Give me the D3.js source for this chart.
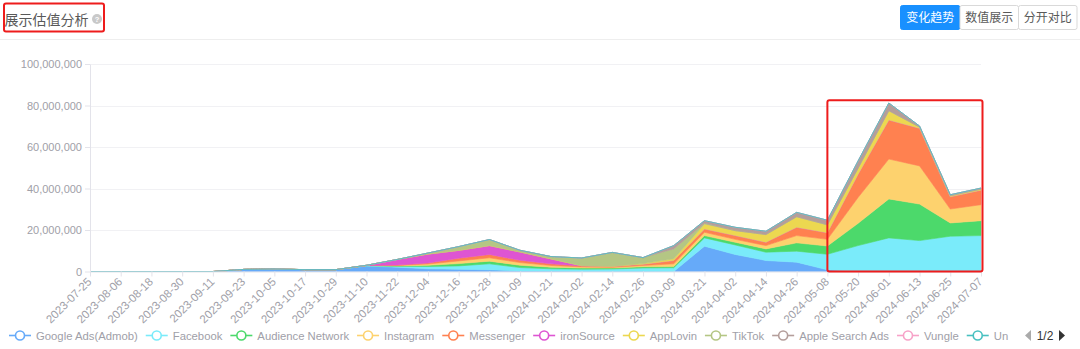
<!DOCTYPE html>
<html><head><meta charset="utf-8">
<script src="https://cdn.jsdelivr.net/npm/d3@7"></script>
<style>
body{margin:0;background:#fff;}
svg{display:block;font-family:"Liberation Sans",Arial,sans-serif;}
</style></head><body>
<svg id="chart" width="1080" height="349"></svg>
<script>
// ---------- DATA (values in millions) ----------
const dates = ["2023-07-25","2023-08-06","2023-08-18","2023-08-30","2023-09-11","2023-09-23","2023-10-05","2023-10-17","2023-10-29","2023-11-10","2023-11-22","2023-12-04","2023-12-16","2023-12-28","2024-01-09","2024-01-21","2024-02-02","2024-02-14","2024-02-26","2024-03-09","2024-03-21","2024-04-02","2024-04-14","2024-04-26","2024-05-08","2024-05-20","2024-06-01","2024-06-13","2024-06-25","2024-07-07"];
const seriesNames = ["Google Ads(Admob)","Facebook","Audience Network","Instagram","Messenger","ironSource","AppLovin","TikTok","Apple Search Ads","Vungle","Unity Ads"];
const googleAds      = [0,0,0,0,0,1.0,1.2,0.9,0.9,2.6,2.1,1.3,1.1,0.8,0.3,0.2,0.1,0.1,0.1,0,12.2,8.2,5.3,4.5,0.8,0,0,0,0,0];
const facebook       = [0,0,0,0,0,0,0,0,0,0.2,0.4,1.1,1.6,2.9,1.6,1.1,1.0,1.1,1.6,1.8,4.0,4.6,4.0,5.3,7.5,12.5,16.2,14.9,17.0,17.3];
const audienceNet    = [0,0,0,0,0,0,0,0,0,0.1,0.2,0.6,1.1,1.3,1.1,0.8,0.6,0.5,0.6,0.6,1.1,1.3,1.6,4.0,4.0,10.7,18.8,17.6,6.4,7.2];
const instagram      = [0,0,0,0,0,0,0,0,0,0,0.2,0.6,1.3,1.6,1.3,0.8,0.5,0.3,0.6,1.3,1.6,1.4,1.6,3.5,3.2,12.5,19.2,18.4,6.7,7.7];
const messenger      = [0,0,0,0,0,0,0,0,0,0,0.2,0.5,1.3,1.6,1.1,0.8,0.5,0.5,0.6,1.6,1.6,1.8,1.6,4.0,3.2,11.2,18.8,18.1,5.9,7.0];
const ironSource     = [0,0,0,0,0,0,0,0,0,0.1,2.7,4.3,3.8,4.3,4.0,2.4,0.1,0,0,0,0,0,0,0,0,0,0,0,0,0];
const appLovin       = [0,0,0,0,0,0,0,0,0,0,0,0,0,0,0,0,0,0,0.3,0.8,2.4,2.4,3.7,5.1,3.8,2.9,4.5,0.6,0.5,0.5];
const tiktok         = [0,0,0,0,0,0,0,0,0,0,0,0.5,1.8,2.9,0.8,1.1,3.7,6.7,2.9,4.8,0.3,0,0,0,0,0,0,0,0,0];
const appleSearchAds = [0,0,0,0,0,0,0,0,0,0,0,0,0,0,0,0,0,0,0,1.6,1.3,1.6,1.6,2.1,2.2,3.5,3.7,0.5,0.5,0.5];
const vungle         = [0,0,0,0,0,0,0,0,0,0,0,0,0,0,0,0,0,0,0,0,0,0,0,0,0,0,0,0,0,0];
const unityAds       = [0,0,0,0,0,0,0,0,0,0,0,0,0,0,0,0,0,0,0,0,0,0,0,0,0,0,0,0,0,0];
const yTickValues = [0,20000000,40000000,60000000,80000000,100000000];
const buttonLabels = ["变化趋势","数值展示","分开对比"];
const titleText = "展示估值分析";
const pagerText = "1/2";

// ---------- STYLE ----------
const colors = ["#66aaf9","#7aebfa","#4cd96b","#fdd26e","#ff8150","#de55d2","#ecd850","#b4c684","#b49e9b","#f7a2c8","#48c0c0"];
const seriesData = [googleAds,facebook,audienceNet,instagram,messenger,ironSource,appLovin,tiktok,appleSearchAds,vungle,unityAds];

const svg = d3.select("#chart");
const W = 1080;
const plot = {left:90, right:981, top:64, bottom:271.5};

const x = d3.scalePoint().domain(dates).range([plot.left, plot.right]);
const y = d3.scaleLinear().domain([0,100000000]).range([plot.bottom, plot.top]);

// header
svg.append("line").attr("x1",0).attr("x2",W).attr("y1",39.5).attr("y2",39.5).attr("stroke","#eeeeee");
svg.append("text").attr("x",4.5).attr("y",24.5).text(titleText)
  .attr("font-family","'Noto Sans CJK SC'").attr("font-size",14).attr("fill","#595959");
svg.append("circle").attr("cx",97).attr("cy",19).attr("r",5).attr("fill","#c9c9c9");
svg.append("text").attr("x",97).attr("y",22).attr("text-anchor","middle").attr("font-size",7.5).attr("font-weight","bold").attr("fill","#fff").text("?");
svg.append("rect").attr("x",4).attr("y",3.5).attr("width",100).attr("height",28).attr("rx",2)
  .attr("fill","none").attr("stroke","#ee1c1c").attr("stroke-width",2);

// buttons
const bx = [900.5, 960, 1018.5, 1077];
buttonLabels.forEach((t,i)=>{
  svg.append("rect").attr("x",bx[i]).attr("y",5.5).attr("width",bx[i+1]-bx[i]).attr("height",24)
    .attr("rx", 2).attr("fill", i===0?"#1890ff":"#fff").attr("stroke", i===0?"#1890ff":"#d9d9d9");
  svg.append("text").attr("x",(bx[i]+bx[i+1])/2).attr("y",21.5).attr("text-anchor","middle")
    .attr("font-family","'Noto Sans CJK SC'").attr("font-size",12)
    .attr("fill", i===0?"#fff":"#595959").text(t);
});

// grid
svg.append("g").selectAll("line").data(yTickValues.slice(1)).join("line")
  .attr("x1",plot.left).attr("x2",plot.right).attr("y1",d=>Math.round(y(d))+0.5).attr("y2",d=>Math.round(y(d))+0.5)
  .attr("stroke","#f1f1f4");

// stacked areas
const rows = dates.map((d,i)=>{ const r={date:d}; seriesNames.forEach((n,k)=>r[n]=seriesData[k][i]*1e6); return r; });
const stacked = d3.stack().keys(seriesNames)(rows);
const area = d3.area().x(d=>x(d.data.date)).y0(d=>y(d[0])).y1(d=>y(d[1]));
svg.append("g").selectAll("path").data(stacked).join("path")
  .attr("d",area).attr("fill",(d,i)=>colors[i]).attr("stroke",(d,i)=>colors[i]).attr("stroke-width",0.6);

// y axis
const yAxis = svg.append("g").attr("transform",`translate(${plot.left},0)`)
  .call(d3.axisLeft(y).tickValues(yTickValues).tickFormat(d3.format(",")).tickSize(5).tickPadding(3).tickSizeOuter(0));
yAxis.select(".domain").attr("stroke","#e3e3ea");
yAxis.selectAll(".tick line").attr("stroke","#e3e3ea");
yAxis.selectAll("text").attr("fill","#a0a0a8").attr("font-size",11).attr("font-family","'Liberation Sans',Arial,sans-serif");

// x axis
const xAxis = svg.append("g").attr("transform",`translate(0,${plot.bottom})`)
  .call(d3.axisBottom(x).tickSize(5).tickSizeOuter(0));
xAxis.select(".domain").attr("stroke","#e3e3ea");
xAxis.selectAll(".tick line").attr("stroke","#e3e3ea");
xAxis.selectAll("text").attr("fill","#a0a0a8").attr("font-size",11.5).attr("font-family","'Liberation Sans',Arial,sans-serif")
  .attr("y",0).attr("dy","0.35em").attr("text-anchor","end")
  .attr("transform","translate(-1,8) rotate(-45)");

// annotation box around last six points
const x0 = x(dates[24]), x1 = x(dates[29]);
svg.append("rect").attr("x",x0).attr("y",y(82.5e6)).attr("width",x1-x0+1.5).attr("height",plot.bottom-y(82.5e6))
  .attr("rx",2).attr("fill","none").attr("stroke","#ee1c1c").attr("stroke-width",2);

// legend (scrolling legend, page 1 of 2: last item truncated at the pager)
const legendEnd = 1009;
const defs = svg.append("defs");
defs.append("clipPath").attr("id","legclip").append("rect").attr("x",0).attr("y",320).attr("width",legendEnd).attr("height",29);
const leg = svg.append("g").attr("clip-path","url(#legclip)");
let lx = 9; const ly = 335.5;
for (let i = 0; i < seriesNames.length && lx < legendEnd; i++) {
  const n = seriesNames[i];
  const g = leg.append("g");
  g.append("line").attr("x1",lx).attr("x2",lx+22).attr("y1",ly).attr("y2",ly).attr("stroke",colors[i]).attr("stroke-width",1.6);
  g.append("circle").attr("cx",lx+11).attr("cy",ly).attr("r",4.5).attr("fill","#fff").attr("stroke",colors[i]).attr("stroke-width",1.6);
  const t = g.append("text").attr("x",lx+27).attr("y",ly+4).attr("font-size",11.3).attr("fill","#a0a0a8").text(n);
  let len = t.node().getComputedTextLength();
  if (lx + 27 + len > legendEnd) {
    let s = n;
    while (s.length > 1 && lx + 27 + t.node().getComputedTextLength() > legendEnd) { s = s.slice(0,-1); t.text(s); }
    len = t.node().getComputedTextLength();
  }
  lx += 27 + len + 8;
}
// pager
svg.append("path").attr("d","M1031,330 L1031,341 L1025,335.5 Z").attr("fill","#aaaaaa");
svg.append("text").attr("x",1045).attr("y",340).attr("text-anchor","middle").attr("font-size",12).attr("fill","#333").text(pagerText);
svg.append("path").attr("d","M1059,330 L1059,341 L1065,335.5 Z").attr("fill","#333333");
</script>
</body></html>
